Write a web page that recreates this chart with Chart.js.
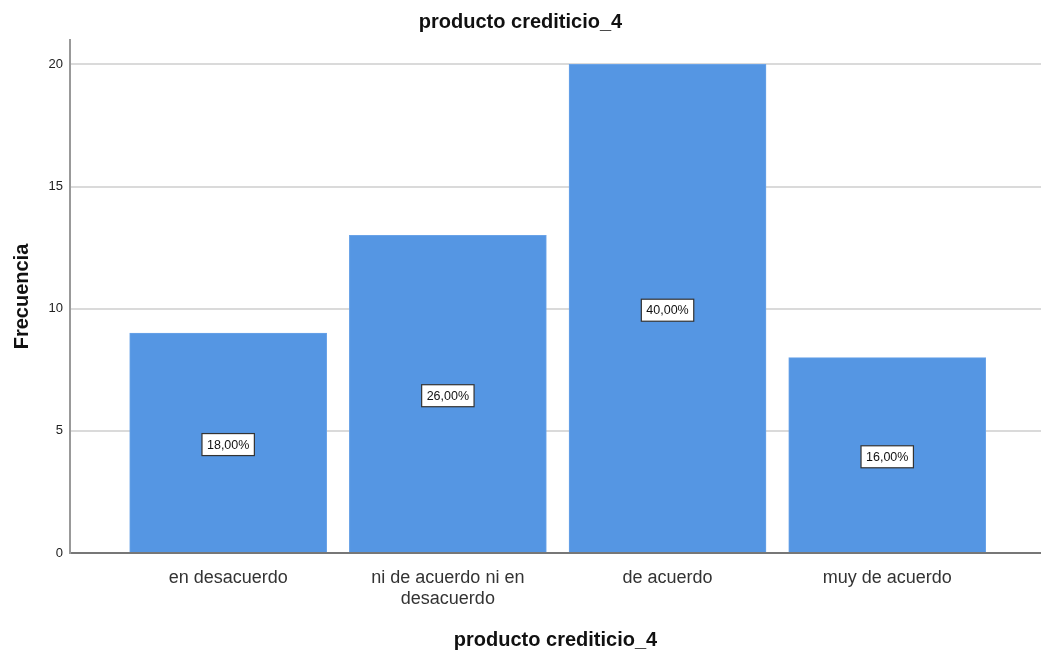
<!DOCTYPE html>
<html>
<head>
<meta charset="utf-8">
<title>producto crediticio_4</title>
<script src="https://cdn.jsdelivr.net/npm/chart.js@4.4.0/dist/chart.umd.min.js"></script>
<style>
  html, body { margin: 0; padding: 0; background: #fff; }
  #wrap { width: 1041px; height: 653px; }
</style>
</head>
<body>
<div id="wrap"><canvas id="chart" width="1041" height="653"></canvas></div>
<script>
// response categories and counts
const categories = ['en desacuerdo', ['ni de acuerdo ni en', 'desacuerdo'], 'de acuerdo', 'muy de acuerdo'];
const counts = [9, 13, 20, 8];
const yTicks = [0, 5, 10, 15, 20];

const total = counts.reduce((a, b) => a + b, 0);
const FONT = '"Liberation Sans", Arial, sans-serif';

// white boxed percentage at the middle of each bar
const pctLabels = {
  id: 'pctLabels',
  afterDatasetsDraw(chart) {
    const ctx = chart.ctx;
    const meta = chart.getDatasetMeta(0);
    ctx.save();
    ctx.font = '12.5px ' + FONT;
    ctx.textAlign = 'center';
    ctx.textBaseline = 'middle';
    meta.data.forEach((bar, i) => {
      const txt = (counts[i] / total * 100).toFixed(2).replace('.', ',') + '%';
      const cy = (bar.y + bar.base) / 2 + 2;
      const w = ctx.measureText(txt).width + 10;
      const h = 22;
      ctx.fillStyle = '#fff';
      ctx.fillRect(bar.x - w / 2, cy - h / 2, w, h);
      ctx.strokeStyle = '#333';
      ctx.lineWidth = 1.2;
      ctx.strokeRect(bar.x - w / 2, cy - h / 2, w, h);
      ctx.fillStyle = '#111';
      ctx.fillText(txt, bar.x, cy + 0.5);
    });
    ctx.restore();
  }
};

new Chart(document.getElementById('chart'), {
  type: 'bar',
  data: {
    datasets: [{
      data: counts.map((v, i) => ({ x: i + 1, y: v })),
      backgroundColor: '#5596e3',
      borderColor: '#6aa3e8',
      borderWidth: 1,
      barThickness: 197
    }]
  },
  options: {
    responsive: false,
    animation: false,
    layout: { padding: 0 },
    plugins: {
      legend: { display: false },
      tooltip: { enabled: false },
      title: {
        display: true,
        text: 'producto crediticio_4',
        color: '#111',
        font: { family: FONT, size: 20, weight: 'bold' },
        padding: { top: 10, bottom: 6 }
      }
    },
    scales: {
      x: {
        type: 'linear',
        offset: false,
        min: 0.28,
        max: 4.7,
        afterBuildTicks(scale) {
          scale.ticks = categories.map((c, i) => ({ value: i + 1 }));
        },
        afterFit(scale) { scale.height = 100; },
        grid: { display: false, drawTicks: false },
        border: { display: true, color: '#777', width: 2 },
        ticks: {
          color: '#333',
          font: { family: FONT, size: 18 },
          padding: 14,
          maxRotation: 0,
          autoSkip: false,
          callback: (v) => categories[v - 1]
        },
        title: {
          display: true,
          text: 'producto crediticio_4',
          color: '#111',
          font: { family: FONT, size: 20, weight: 'bold' },
          padding: { top: 0, bottom: 1 }
        }
      },
      y: {
        min: 0,
        max: 21,
        afterBuildTicks(scale) {
          scale.ticks = yTicks.map(v => ({ value: v }));
        },
        afterFit(scale) { scale.width = 70; },
        grid: { color: '#dadada', lineWidth: 2, drawTicks: false },
        border: { display: true, color: '#999', width: 2 },
        ticks: {
          color: '#222',
          font: { family: FONT, size: 13 },
          padding: 7
        },
        title: {
          display: true,
          text: 'Frecuencia',
          color: '#111',
          font: { family: FONT, size: 20, weight: 'bold' },
          padding: { top: 10, bottom: 0 }
        }
      }
    }
  },
  plugins: [pctLabels]
});
</script>
</body>
</html>
